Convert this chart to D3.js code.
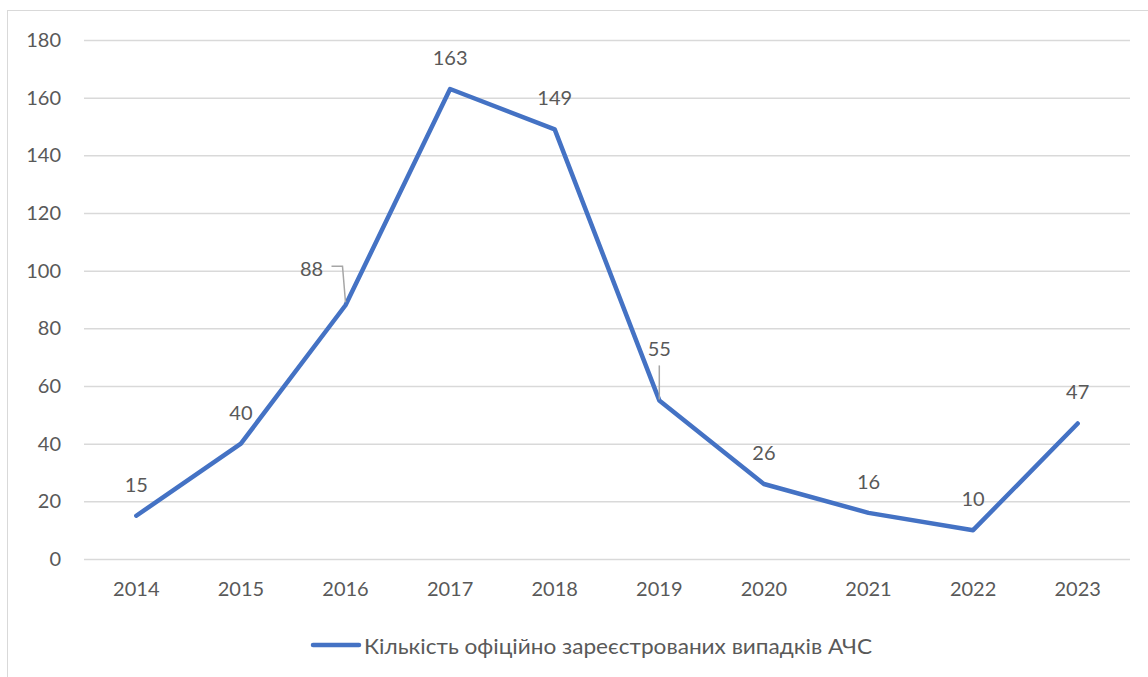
<!DOCTYPE html>
<html><head><meta charset="utf-8">
<script src="https://cdn.jsdelivr.net/npm/d3@7"></script>
<style>body{margin:0;background:#fff}svg{display:block}text{font-family:Lato,"Open Sans",sans-serif;fill:#595959}</style>
</head><body><svg id="c" width="1148" height="677"></svg>
<script>
const years = ["2014","2015","2016","2017","2018","2019","2020","2021","2022","2023"];
const cases = [15,40,88,163,149,55,26,16,10,47];
const yTicks = [0,20,40,60,80,100,120,140,160,180];
const seriesName = "Кількість офіційно зареєстрованих випадків АЧС";

const svg = d3.select("#c");
// outer border
svg.append("rect").attr("x",7.5).attr("y",10.5).attr("width",1160).attr("height",700)
  .attr("fill","none").attr("stroke","#d9d9d9").attr("stroke-width",1);

const x = d3.scaleBand().domain(years).range([84,1130]);
const y = d3.scaleLinear().domain([0,180]).range([559,40]);

const gy = svg.append("g").attr("transform","translate(84,0)")
  .call(d3.axisLeft(y).tickValues(yTicks).tickSize(-(1130-84)).tickPadding(23));
gy.select(".domain").remove();
gy.selectAll(".tick line").attr("stroke","#d9d9d9").attr("stroke-width",1.5);
gy.selectAll(".tick text").style("font-size","20px").attr("fill","#595959");

const gx = svg.append("g").attr("transform","translate(0,559)")
  .call(d3.axisBottom(x).tickSize(0).tickPadding(23));
gx.select(".domain").remove();
gx.selectAll(".tick text").style("font-size","20px").attr("fill","#595959");

const cx = d => x(d)+x.bandwidth()/2;
const line = d3.line().x((d,i)=>cx(years[i])).y(d=>y(d));
svg.append("path").datum(cases).attr("d",line).attr("fill","none")
  .attr("stroke","#4472C4").attr("stroke-width",4.5).attr("stroke-linejoin","round").attr("stroke-linecap","round");

// label offsets (dx, dy of label center relative to point)
const labelOff = {"2016":[-34,-37],"2019":[0,-52]};
years.forEach((yr,i)=>{
  const px=cx(yr), py=y(cases[i]);
  const o = labelOff[yr]||[0,-32];
  svg.append("text").attr("x",px+o[0]).attr("y",py+o[1]).attr("text-anchor","middle")
    .attr("dominant-baseline","central").style("font-size","20px").text(cases[i]);
});
// leader lines
const p16=[cx("2016"),y(88)], p19=[cx("2019"),y(55)];
svg.append("path").attr("d",`M${p16[0]-14},${p16[1]-39}H${p16[0]-3}L${p16[0]},${p16[1]-3}`)
  .attr("fill","none").attr("stroke","#a6a6a6").attr("stroke-width",1.5);
svg.append("path").attr("d",`M${p19[0]},${p19[1]-35}V${p19[1]-1}`)
  .attr("fill","none").attr("stroke","#a6a6a6").attr("stroke-width",1.5);

// legend
svg.append("line").attr("x1",313).attr("x2",359).attr("y1",645).attr("y2",645)
  .attr("stroke","#4472C4").attr("stroke-width",4.5).attr("stroke-linecap","round");
svg.append("text").attr("x",364).attr("y",645).attr("dominant-baseline","central")
  .attr("textLength",508).attr("lengthAdjust","spacingAndGlyphs")
  .style("font-size","21px").text(seriesName);
</script></body></html>
